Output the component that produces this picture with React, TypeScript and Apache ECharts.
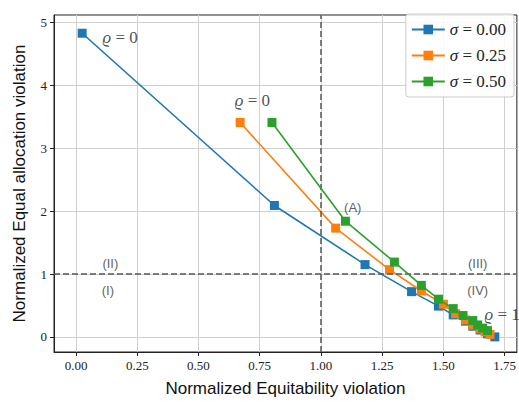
import React, { useEffect, useRef } from "react";
import * as echarts from "echarts";

const seriesNames = ["σ = 0.00", "σ = 0.25", "σ = 0.50"];
const colors = ["#1f77b4", "#ff7f0e", "#2ca02c"];

const blue: [number, number][] = [
  [0.025, 4.83], [0.81, 2.09], [1.18, 1.15], [1.37, 0.72], [1.48, 0.49], [1.54, 0.35],
  [1.59, 0.25], [1.62, 0.17], [1.65, 0.11], [1.68, 0.05], [1.71, 0.0],
];
const orange: [number, number][] = [
  [0.67, 3.41], [1.06, 1.73], [1.28, 1.07], [1.41, 0.73], [1.5, 0.52], [1.55, 0.37],
  [1.59, 0.27], [1.62, 0.19], [1.65, 0.13], [1.67, 0.08], [1.69, 0.04],
];
const green: [number, number][] = [
  [0.8, 3.41], [1.1, 1.84], [1.3, 1.19], [1.41, 0.82], [1.48, 0.6], [1.54, 0.45],
  [1.58, 0.34], [1.62, 0.26], [1.64, 0.19], [1.66, 0.14], [1.68, 0.1],
];

const xTicks = [0, 0.25, 0.5, 0.75, 1.0, 1.25, 1.5, 1.75];
const yTicks = [0, 1, 2, 3, 4, 5];

const mathNotes: [number, number, string][] = [
  [0.18, 4.77, "ϱ = 0"],
  [0.72, 3.76, "ϱ = 0"],
  [1.74, 0.36, "ϱ = 1"],
];
const regionNotes: [number, number, string][] = [
  [1.13, 2.06, "(A)"],
  [0.14, 1.17, "(II)"],
  [0.13, 0.74, "(I)"],
  [1.64, 1.17, "(III)"],
  [1.64, 0.74, "(IV)"],
];

const SERIF = "'Liberation Serif', 'DejaVu Serif', serif";
const SANS = "'Liberation Sans', 'DejaVu Sans', sans-serif";

const mathRich = (size: number) => ({
  g: { fontFamily: SERIF, fontSize: size, fontStyle: "italic", color: "#222" },
  t: { fontFamily: SERIF, fontSize: size, color: "#222" },
});
const mathFmt = (s: string) => {
  const sym = s.charAt(0);
  return `{g|${sym}}{t|${s.slice(1)}}`;
};

export default function App() {
  const ref = useRef<HTMLDivElement>(null);
  useEffect(() => {
    if (!ref.current) return;
    const chart = echarts.init(ref.current, undefined, { renderer: "svg" });
    const dataSets = [blue, orange, green];
    const lineSeries = dataSets.map((d, i) => ({
      type: "line",
      name: seriesNames[i],
      data: d,
      symbol: "rect",
      symbolSize: 9,
      showSymbol: true,
      lineStyle: { color: colors[i], width: 1.6 },
      itemStyle: { color: colors[i] },
      z: 3 + i,
      markLine:
        i === 0
          ? {
              silent: true,
              symbol: "none",
              label: { show: false },
              lineStyle: { color: "#555", type: [6, 3], width: 1.5 },
              data: [{ xAxis: 1 }, { yAxis: 1 }],
            }
          : undefined,
    }));
    chart.setOption({
      animation: false,
      backgroundColor: "#fff",
      grid: {
        left: 54, right: 2, top: 15, bottom: 47,
        show: true, borderColor: "#222", borderWidth: 1, backgroundColor: "transparent",
      },
      legend: {
        right: 5, top: 14,
        orient: "vertical",
        data: seriesNames,
        itemWidth: 33, itemHeight: 12, itemGap: 9,
        padding: [7, 8, 7, 5],
        backgroundColor: "rgba(255,255,255,0.85)",
        borderColor: "#ccc", borderWidth: 1, borderRadius: 3,
        formatter: (n: string) => mathFmt(n),
        textStyle: { fontFamily: SERIF, fontSize: 17, color: "#111", rich: mathRich(17) },
      },
      xAxis: {
        type: "value",
        min: -0.09, max: 1.8,
        axisLine: { show: true, onZero: false, lineStyle: { color: "#222" } },
        axisTick: { show: true, length: 4, customValues: xTicks, lineStyle: { color: "#222" } },
        axisLabel: {
          customValues: xTicks,
          formatter: (v: number) => v.toFixed(2),
          fontFamily: SERIF, fontSize: 13, color: "#222", margin: 7,
        },
        splitLine: { show: true, lineStyle: { color: "#d0d0d0", width: 1 } },
        name: "Normalized Equitability violation",
        nameLocation: "middle", nameGap: 28,
        nameTextStyle: { fontFamily: SANS, fontSize: 17, color: "#111" },
      },
      yAxis: {
        type: "value",
        min: -0.24, max: 5.12,
        axisLine: { show: true, onZero: false, lineStyle: { color: "#222" } },
        axisTick: { show: true, length: 4, customValues: yTicks, lineStyle: { color: "#222" } },
        axisLabel: {
          customValues: yTicks,
          fontFamily: SERIF, fontSize: 13, color: "#222", margin: 7,
        },
        splitLine: { show: true, lineStyle: { color: "#d0d0d0", width: 1 } },
        name: "Normalized Equal allocation violation",
        nameLocation: "middle", nameGap: 26,
        nameTextStyle: { fontFamily: SANS, fontSize: 17, color: "#111" },
      },
      series: [
        ...lineSeries,
        {
          type: "scatter",
          symbolSize: 0,
          silent: true,
          z: 10,
          data: mathNotes.map((n) => ({ value: [n[0], n[1]], name: n[2] })),
          label: {
            show: true, position: "inside", formatter: (p: any) => mathFmt(p.name),
            rich: mathRich(17),
          },
        },
        {
          type: "scatter",
          symbolSize: 0,
          silent: true,
          z: 10,
          data: regionNotes.map((n) => ({ value: [n[0], n[1]], name: n[2] })),
          label: {
            show: true, position: "inside", formatter: (p: any) => p.name,
            fontFamily: SANS, fontSize: 13, color: "#333",
          },
        },
      ],
    });
    return () => chart.dispose();
  }, []);
  return <div ref={ref} style={{ width: 519, height: 402, position: "absolute", left: 0, top: 0 }} />;
}
